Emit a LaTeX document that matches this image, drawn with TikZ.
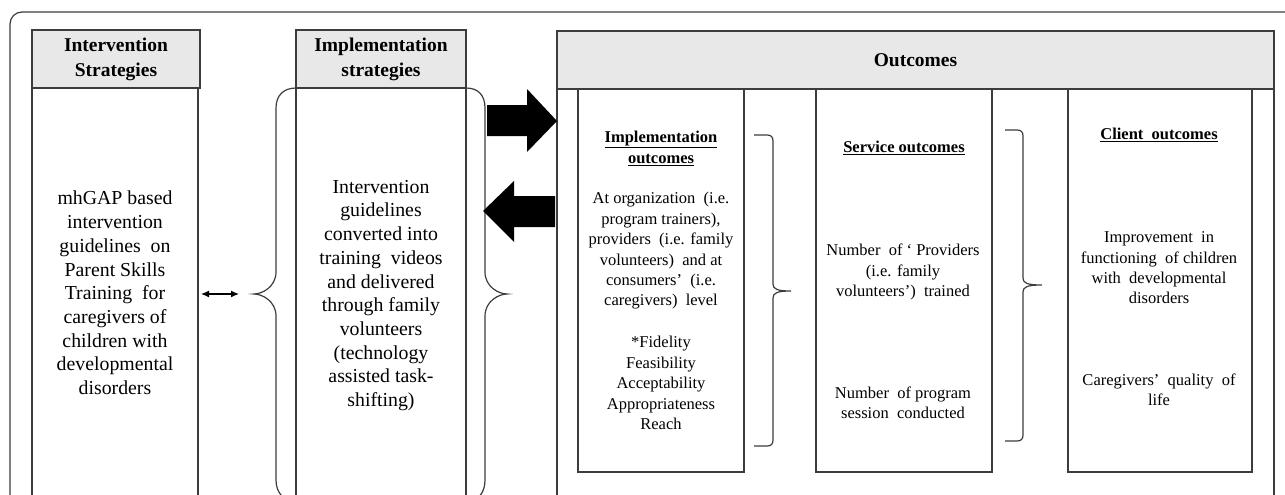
\documentclass[tikz,border=0pt]{standalone}
\usepackage{fontspec}
\setmainfont{Liberation Serif}
\usetikzlibrary{arrows.meta}
\definecolor{linec}{RGB}{60,60,60}
\definecolor{framec}{RGB}{60,60,60}
\definecolor{hdrfill}{RGB}{232,232,232}
\begin{document}
\begin{tikzpicture}[x=1pt,y=-1pt,
  box/.style={draw=linec,line width=1.3pt,anchor=north west,inner sep=0pt,outer sep=0pt},
  hdr/.style={box,fill=hdrfill,font=\fontsize{19.5}{25}\selectfont\bfseries,align=center},
  bigtxt/.style={font=\fontsize{19.8}{23.7}\selectfont,align=center,inner sep=0pt},
  smtxt/.style={font=\fontsize{16.5}{20.4}\selectfont,align=center,inner sep=0pt},
  smhead/.style={font=\fontsize{16.5}{21}\selectfont\bfseries,align=center,inner sep=0pt},
  bracepath/.style={draw=linec,line width=1.2pt},
  bigarrow/.style={fill=black},
  dblarrow/.style={draw=black,line width=1.2pt,{Latex[length=8pt,width=7pt]}-{Latex[length=8pt,width=7pt]}}]

\useasboundingbox (0,0) rectangle (1285,495);
\clip (0,0) rectangle (1285,495);

% outer frame
\draw[draw=framec,line width=1.2pt,rounded corners=12pt] (10,530) -- (10,12) -- (1300,12);

% intervention strategies
\node[hdr,minimum width=168pt,minimum height=58pt] (ISh) at (32,30) {Intervention\\Strategies};
\node[box,minimum width=166pt,minimum height=440pt] (ISb) at (32,88) {};
\node[bigtxt] (ISt) at (115,293) {mhGAP based\\intervention\\guidelines\ \ on\\Parent Skills\\Training\ \ for\\caregivers of\\children with\\developmental\\disorders};

% implementation strategies
\node[hdr,minimum width=170pt,minimum height=58pt] (IMh) at (296,30) {Implementation\\strategies};
\node[box,minimum width=170pt,minimum height=440pt] (IMb) at (296,88) {};
\node[bigtxt] (IMt) at (381,295.5) {Intervention\\guidelines\\converted into\\training\ \ videos\\and delivered\\through family\\volunteers\\(technology\\assisted task-\\shifting)};

% outcomes
\node[hdr,minimum width=717pt,minimum height=58pt] (OCh) at (557,31) {Outcomes};
\node[box,minimum width=717pt,minimum height=440pt] (OCb) at (557,89) {};
\node[box,minimum width=166pt,minimum height=383pt] (IOb) at (578,89) {};
\node[box,minimum width=176pt,minimum height=383pt] (SOb) at (816,89) {};
\node[box,minimum width=184pt,minimum height=383pt] (COb) at (1068,89) {};

\node[smhead] (IOh) at (661,148.5) {\underline{Implementation}\\\underline{outcomes}};
\node[smtxt] (IOt1) at (661,251) {At organization\ \ (i.e.\\program trainers),\\providers\ \ (i.e. family\\volunteers)\ \ and at\\consumers’\ \ (i.e.\\caregivers)\ \ level};
\node[smtxt] (IOt2) at (661,383) {*Fidelity\\Feasibility\\Acceptability\\Appropriateness\\Reach};

\node[smhead] (SOh) at (904,148) {\underline{Service outcomes}};
\node[smtxt] (SOt1) at (903,272) {Number\ \ of ‘ Providers\\(i.e. family\\volunteers’)\ \ trained};
\node[smtxt] (SOt2) at (903,403) {Number\ \ of program\\session\ \ conducted};

\node[smhead] (COh) at (1159,135) {\underline{Client\ \ outcomes}};
\node[smtxt] (COt1) at (1159,268) {Improvement\ \ in\\functioning\ \ of children\\with\ \ developmental\\disorders};
\node[smtxt] (COt2) at (1159,390) {Caregivers’\ \ quality\ \ of\\life};

% big braces around implementation strategies body
\draw[bracepath] (IMb.north west) .. controls (284,88) and (276,95) .. (276,108) -- (276,272)
  .. controls (276,287) and (262,294) .. (254,294)
  .. controls (262,294) and (276,301) .. (276,316) -- (276,480)
  .. controls (276,493) and (284,501) .. (296,503);
\draw[bracepath] (IMb.north east) .. controls (478,88) and (485,95) .. (485,108) -- (485,272)
  .. controls (485,287) and (499,294) .. (507,294)
  .. controls (499,294) and (485,301) .. (485,316) -- (485,480)
  .. controls (485,493) and (478,501) .. (466,503);

% small brackets
\draw[bracepath] (754,135) -- (767,135) .. controls (771,135) and (773,137) .. (773,141) -- (773,284)
  .. controls (773,289) and (777,291) .. (791,291)
  .. controls (777,291) and (773,293) .. (773,298) -- (773,440)
  .. controls (773,444) and (771,446) .. (767,446) -- (754,446);
\draw[bracepath] (1005,130) -- (1017,130) .. controls (1021,130) and (1023,132) .. (1023,136) -- (1023,278)
  .. controls (1023,283) and (1027,285) .. (1042,285)
  .. controls (1027,285) and (1023,287) .. (1023,292) -- (1023,435)
  .. controls (1023,439) and (1021,441) .. (1017,441) -- (1005,441);

% double arrow between intervention and implementation strategies
\coordinate (dA) at (201,294);
\coordinate (dB) at (239,294);
\draw[dblarrow] (dA) -- (dB);

% big block arrows
\fill[bigarrow] (487,105) -- (527,105) -- (527,89) -- (557,121) -- (527,152) -- (527,136) -- (487,136) -- cycle;
\fill[bigarrow] (555,196) -- (514,196) -- (514,181) -- (483,211) -- (514,242) -- (514,227) -- (555,227) -- cycle;

\end{tikzpicture}
\end{document}
